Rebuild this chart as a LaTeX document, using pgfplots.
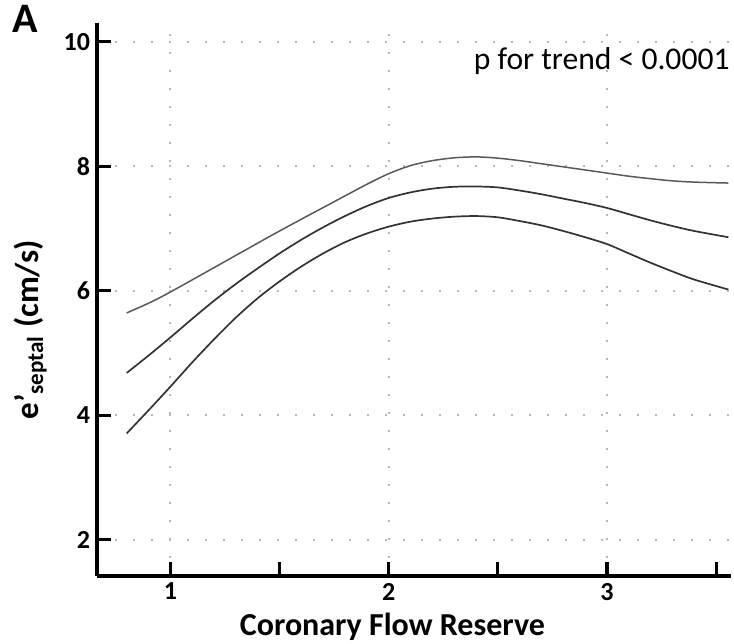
\documentclass[border=0pt]{standalone}
\usepackage{fontspec}
\setmainfont{Carlito}
\usepackage{pgfplots}
\pgfplotsset{compat=1.18}
\usepackage{pgfplotstable}

\pgfplotstableread{
x y
0.80 5.645
0.90 5.80
1.00 5.98
1.25 6.47
1.50 6.96
1.75 7.43
1.90 7.71
2.00 7.88
2.10 8.01
2.20 8.09
2.30 8.135
2.40 8.15
2.50 8.13
2.60 8.09
2.70 8.04
2.80 7.99
2.90 7.94
3.00 7.89
3.10 7.84
3.20 7.80
3.30 7.765
3.40 7.745
3.556 7.73
}\upperband

\pgfplotstableread{
x y
0.80 4.68
0.90 4.96
1.00 5.25
1.10 5.55
1.20 5.84
1.30 6.11
1.40 6.36
1.50 6.60
1.60 6.82
1.70 7.02
1.80 7.20
1.90 7.36
2.00 7.49
2.10 7.58
2.20 7.64
2.30 7.67
2.40 7.675
2.50 7.66
2.60 7.61
2.70 7.55
2.80 7.48
2.90 7.41
3.00 7.33
3.10 7.23
3.20 7.13
3.30 7.04
3.40 6.96
3.556 6.86
}\midcurve

\pgfplotstableread{
x y
0.80 3.71
0.90 4.08
1.00 4.46
1.10 4.85
1.20 5.22
1.30 5.57
1.40 5.88
1.50 6.15
1.60 6.39
1.70 6.60
1.80 6.78
1.90 6.92
2.00 7.03
2.10 7.11
2.20 7.16
2.30 7.19
2.40 7.20
2.50 7.18
2.60 7.12
2.70 7.05
2.80 6.96
2.90 6.86
3.00 6.75
3.10 6.60
3.20 6.45
3.30 6.31
3.40 6.18
3.556 6.02
}\lowerband

\begin{document}
\begin{tikzpicture}
\begin{axis}[
  scale only axis,
  width=317pt, height=276.5pt,
  xmin=0.664, xmax=3.568,
  ymin=1.42, ymax=10.3,
  axis x line*=bottom, axis y line*=left,
  axis line style={-, line width=2pt, black},
  xtick={1,2,3}, minor xtick={1.5,2.5,3.5},
  ytick={2,4,6,8,10}, minor ytick={},
  tick align=inside,
  major tick length=7pt, minor tick length=7pt,
  every tick/.style={black, line width=1.6pt},
  tick label style={font=\fontsize{13}{15}\selectfont\bfseries},
  /pgf/number format/assume math mode=true,
  grid=major,
  major grid style={black!28, line width=1.1pt, dash pattern=on 1pt off 8pt},
  xlabel={Coronary Flow Reserve},
  xlabel style={font=\fontsize{16}{19}\selectfont\bfseries, at={(axis description cs:0.466,-0.1067)}, anchor=base},
  ylabel={e’\textsubscript{septal} (cm/s)},
  ylabel style={font=\fontsize{16.5}{19}\selectfont\bfseries, at={(axis description cs:-0.093,0.445)}, anchor=base},
  clip=false,
]
\addplot[black!65, line width=0.75pt, smooth] table[x=x,y=y] {\upperband};
\addplot[black!80, line width=0.85pt, smooth] table[x=x,y=y] {\midcurve};
\addplot[black!80, line width=0.85pt, smooth] table[x=x,y=y] {\lowerband};
\node[anchor=base east, inner sep=0pt, font=\fontsize{15.8}{18}\selectfont] at (axis description cs:0.9984,0.916) {p for trend < 0.0001};
\node[anchor=base west, inner sep=0pt, font=\fontsize{21}{23}\selectfont\bfseries] at (axis description cs:-0.1335,0.9837) {A};
\coordinate (bl) at (axis description cs:-0.15300,-0.12116);
\coordinate (tr) at (axis description cs:1.00473,1.04159);
\end{axis}
\pgfresetboundingbox
\path (bl) rectangle (tr);
\end{tikzpicture}
\end{document}
